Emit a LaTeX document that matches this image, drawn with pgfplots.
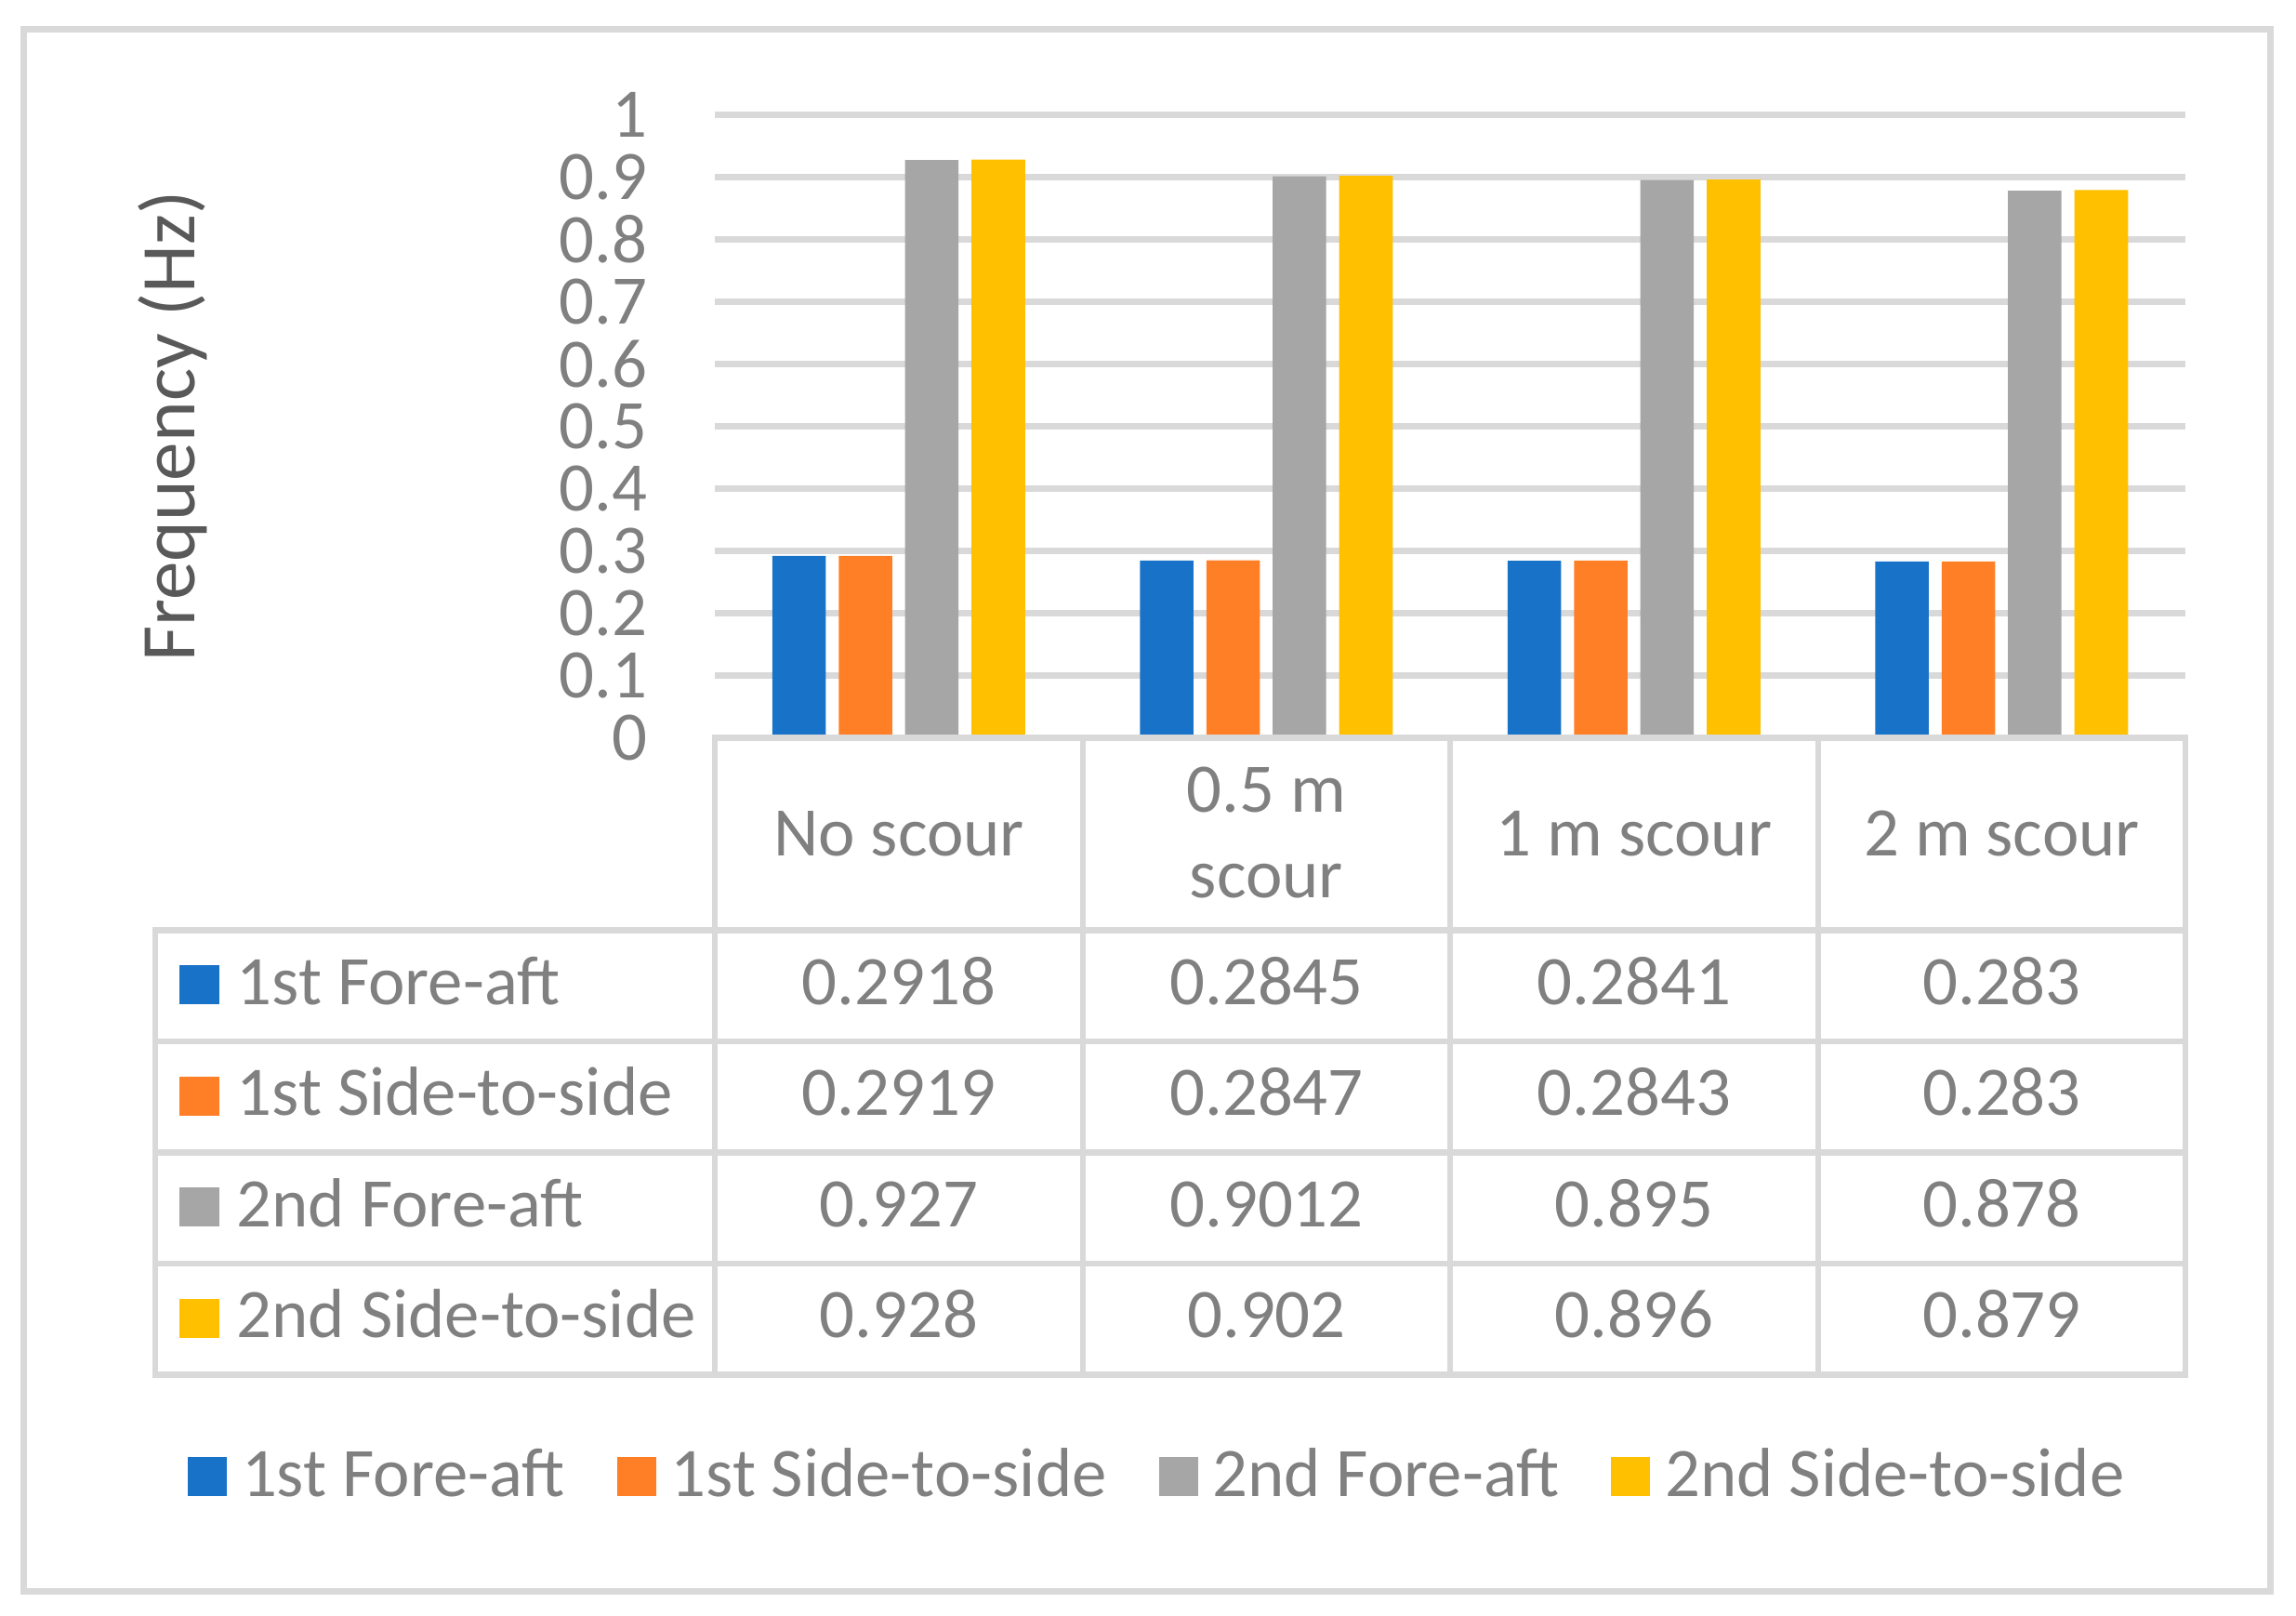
\documentclass[border=0pt]{standalone}
\usepackage{fontspec}
\setmainfont{Carlito}
\usepackage{pgfplots}
\usepackage{pgfplotstable}
\pgfplotsset{compat=1.18}
\definecolor{cblue}{RGB}{24,115,200}
\definecolor{corange}{RGB}{255,127,39}
\definecolor{cgray}{RGB}{166,166,166}
\definecolor{cyellow}{RGB}{255,192,0}
\definecolor{gridc}{RGB}{217,217,217}
\definecolor{txt}{RGB}{128,128,128}
\definecolor{ttl}{RGB}{89,89,89}
\newcommand\tf{\fontsize{18.7pt}{23pt}\selectfont}
\pgfplotsset{sq legend/.style={legend image code/.code={\fill[##1] (0pt,0pt) rectangle (10.5pt,10.5pt);}}}
\pgfplotstableread{
x fa1 ss1 fa2 ss2
0 0.2918 0.2919 0.927 0.928
1 0.2845 0.2847 0.9012 0.902
2 0.2841 0.2843 0.895 0.896
3 0.283 0.283 0.878 0.879
}\datatab
\begin{document}
\begin{tikzpicture}
\path (0,0) rectangle (617.5pt,-434.25pt);
\begin{axis}[
  at={(192.25pt,-198.375pt)}, anchor=south west,
  scale only axis, width=395.5pt, height=167.55pt,
  xmin=-0.5, xmax=3.5, ymin=0, ymax=1,
  axis line style={draw=none}, xtick=\empty,
  ytick={0,0.1,0.2,0.3,0.4,0.5,0.6,0.7,0.8,0.9,1},
  yticklabels={0,0.1,0.2,0.3,0.4,0.5,0.6,0.7,0.8,0.9,1},
  major tick length=0pt, tick style={draw=none},
  ymajorgrids, grid style={draw=gridc, line width=1.6pt},
  yticklabel style={font=\tf, text=txt, anchor=east, inner sep=0pt, xshift=-18pt},
  legend columns=4,
  legend style={at={(-0.3584,-1.1832)}, anchor=west, draw=none, fill=none,
    inner sep=0pt, outer sep=0pt, font=\tf, text=txt,
    nodes={inner sep=0pt}, cells={anchor=base west},
    /tikz/every odd column/.append style={column sep=4pt},
    /tikz/every even column/.append style={column sep=14pt}},
]
\addplot[ybar, bar width=14.4pt, bar shift=-26.8pt, fill=cblue, draw=none, sq legend] table[x=x,y=fa1]{\datatab};
\addlegendentry{1st Fore-aft}
\addplot[ybar, bar width=14.4pt, bar shift=-8.9pt, fill=corange, draw=none, sq legend] table[x=x,y=ss1]{\datatab};
\addlegendentry{1st Side-to-side}
\addplot[ybar, bar width=14.4pt, bar shift=8.9pt, fill=cgray, draw=none, sq legend] table[x=x,y=fa2]{\datatab};
\addlegendentry{2nd Fore-aft}
\addplot[ybar, bar width=14.4pt, bar shift=26.8pt, fill=cyellow, draw=none, sq legend] table[x=x,y=ss2]{\datatab};
\addlegendentry{2nd Side-to-side}
\end{axis}
\begin{scope}[x=0.25pt, y=-0.25pt]
\draw[gridc, line width=1.6pt] (25.5,31.5) rectangle (2442.5,1711.5);
\begin{scope}[draw=gridc, line width=1.6pt, line cap=rect]
\foreach \yy in {1000.5,1120,1239.5,1359,1478.5} \draw (167,\yy) -- (2351,\yy);
\draw (769,793.5) -- (2351,793.5);
\foreach \xx in {769,1165,1560,1956,2351} \draw (\xx,793.5) -- (\xx,1478.5);
\draw (167,1000.5) -- (167,1478.5);
\end{scope}
\node[rotate=90, anchor=base, inner sep=0pt, text=ttl, font=\fontsize{20.8pt}{24pt}\selectfont] at (209,458.5) {Frequency (Hz)};
\begin{scope}[every node/.style={font=\tf, text=txt, inner sep=0pt, anchor=base}]
\node at (967,920) {No scour};
\node at (1362.5,873) {0.5 m};
\node at (1362.5,965) {scour};
\node at (1758,920) {1 m scour};
\node at (2153.5,920) {2 m scour};
% row labels
\fill[cblue] (193,1038) rectangle (236,1080);
\node[anchor=base west] at (254,1080) {1st Fore-aft};
\fill[corange] (193,1157.5) rectangle (236,1199.5);
\node[anchor=base west] at (254,1199.5) {1st Side-to-side};
\fill[cgray] (193,1277) rectangle (236,1319);
\node[anchor=base west] at (254,1319) {2nd Fore-aft};
\fill[cyellow] (193,1396.5) rectangle (236,1438.5);
\node[anchor=base west] at (254,1438.5) {2nd Side-to-side};
% values
\node at (967,1080) {0.2918};
\node at (1362.5,1080) {0.2845};
\node at (1758,1080) {0.2841};
\node at (2153.5,1080) {0.283};
\node at (967,1199.5) {0.2919};
\node at (1362.5,1199.5) {0.2847};
\node at (1758,1199.5) {0.2843};
\node at (2153.5,1199.5) {0.283};
\node at (967,1319) {0.927};
\node at (1362.5,1319) {0.9012};
\node at (1758,1319) {0.895};
\node at (2153.5,1319) {0.878};
\node at (967,1438.5) {0.928};
\node at (1362.5,1438.5) {0.902};
\node at (1758,1438.5) {0.896};
\node at (2153.5,1438.5) {0.879};
\end{scope}
\end{scope}
\end{tikzpicture}
\end{document}
